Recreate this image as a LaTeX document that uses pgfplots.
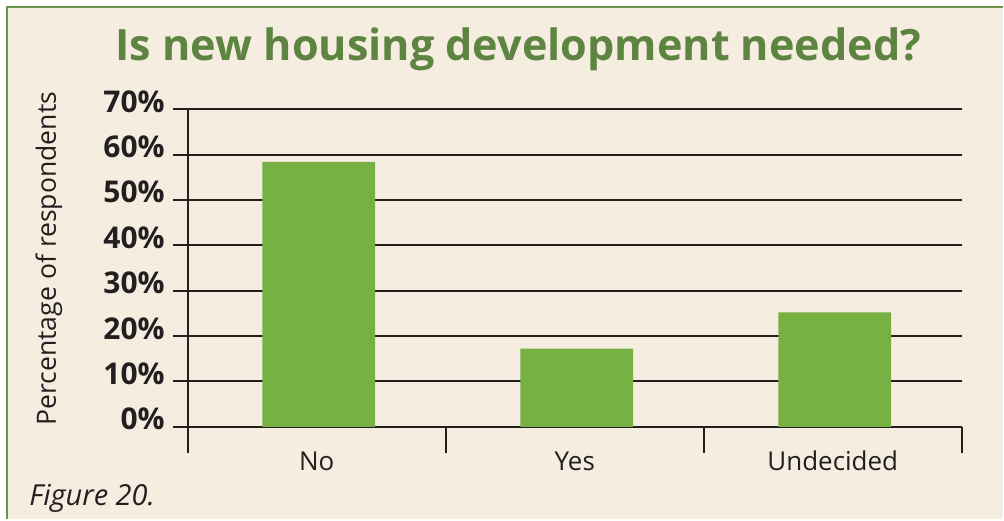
\documentclass[border=0pt]{standalone}
\usepackage{pgfplots}
\pgfplotsset{compat=1.18}
\usepackage{fontspec}
\setmainfont{Open Sans}
\definecolor{bg}{HTML}{F5EDDF}
\definecolor{frame}{HTML}{6A9548}
\definecolor{titlegreen}{HTML}{5E8442}
\definecolor{bargreen}{HTML}{77B043}
\definecolor{ink}{HTML}{231F20}
\begin{document}
\begin{tikzpicture}
\fill[white] (0pt,0pt) rectangle (1004pt,-520pt);
\fill[bg] (7pt,-7pt) rectangle (1004pt,-520pt);
\draw[frame, line width=2.5pt] (7pt,-520pt) -- (7pt,-7pt) -- (1004pt,-7pt);
\node[anchor=base, text=titlegreen, font=\fontsize{43.2}{46}\selectfont\bfseries] at (519pt,-61pt) {Is new housing development needed?};
\node[anchor=base, rotate=90, text=ink, font=\fontsize{26.6}{28}\selectfont] at (56pt,-259pt) {Percentage of respondents};
\node[anchor=base west, text=ink, font=\fontsize{29}{32}\selectfont\itshape] at (26pt,-506pt) {Figure 20.};
\begin{axis}[
  at={(188pt,-427.3pt)}, anchor=south west,
  scale only axis, width=775pt, height=318pt,
  xmin=0, xmax=3, ymin=0, ymax=70,
  axis lines*=left,
  axis line style={ink, line width=2pt},
  every tick/.style={ink, line width=2pt},
  tick align=outside,
  major tick length=26pt,
  y tick style={xshift=11pt},
  ytick={0,10,...,70},
  yticklabel={\pgfmathprintnumber[assume math mode=true]{\tick}\%},
  yticklabel style={font=\fontsize{30}{32}\selectfont\bfseries, text=ink, anchor=base east, inner sep=0pt, xshift=3pt, yshift=-3pt},
  ymajorgrids,
  grid style={ink, line width=2pt},
  xtick={0,1,2,3},
  xticklabels={},
  extra x ticks={0.5,1.5,2.5},
  extra x tick labels={No,Yes,Undecided},
  extra x tick style={major tick length=0pt, xmajorgrids=false, ymajorgrids=false,
    xticklabel style={font=\fontsize{26}{28}\selectfont, text=ink, anchor=north, inner sep=0pt, text height=19pt, text depth=6pt, yshift=-24.7pt}},
  ybar, bar width=113pt, bar shift=2pt,
]
\addplot[fill=bargreen, draw=none] coordinates {(0.5,58.4) (1.5,17.2) (2.5,25.2)};
\end{axis}
\end{tikzpicture}
\end{document}
